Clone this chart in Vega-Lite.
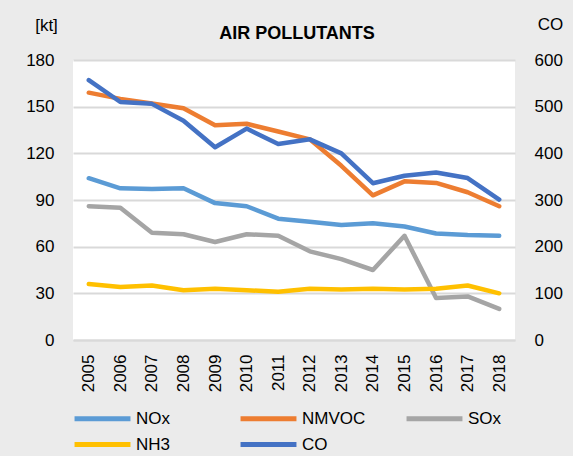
{
  "$schema": "https://vega.github.io/schema/vega-lite/v6.json",
  "width": 442,
  "height": 280,
  "autosize": {"type": "none"},
  "padding": {"left": 73, "top": 60, "right": 58, "bottom": 116},
  "background": "#ebebeb",
  "title": {"text": "AIR POLLUTANTS", "font": "Liberation Sans", "fontSize": 18, "fontWeight": "bold", "color": "#000000", "anchor": "middle", "offset": 0, "dx": 3, "dy": 28},
  "config": {
    "view": {"fill": "#ffffff", "stroke": null},
    "font": "Liberation Sans",
    "axis": {"labelFontSize": 17, "labelColor": "#000000", "labelFont": "Liberation Sans", "titleFont": "Liberation Sans", "titleFontSize": 17, "titleFontWeight": "normal", "titleColor": "#000000", "ticks": false, "gridColor": "#d9d9d9", "gridWidth": 2}
  },
  "data": {"values": [
    {"year": "2005", "series": "NOx", "value": 104},
    {"year": "2006", "series": "NOx", "value": 97.5},
    {"year": "2007", "series": "NOx", "value": 97},
    {"year": "2008", "series": "NOx", "value": 97.5},
    {"year": "2009", "series": "NOx", "value": 88},
    {"year": "2010", "series": "NOx", "value": 86},
    {"year": "2011", "series": "NOx", "value": 78},
    {"year": "2012", "series": "NOx", "value": 76},
    {"year": "2013", "series": "NOx", "value": 74},
    {"year": "2014", "series": "NOx", "value": 75},
    {"year": "2015", "series": "NOx", "value": 73},
    {"year": "2016", "series": "NOx", "value": 68.5},
    {"year": "2017", "series": "NOx", "value": 67.5},
    {"year": "2018", "series": "NOx", "value": 67},
    {"year": "2005", "series": "NMVOC", "value": 159},
    {"year": "2006", "series": "NMVOC", "value": 155},
    {"year": "2007", "series": "NMVOC", "value": 152},
    {"year": "2008", "series": "NMVOC", "value": 149},
    {"year": "2009", "series": "NMVOC", "value": 138},
    {"year": "2010", "series": "NMVOC", "value": 139},
    {"year": "2011", "series": "NMVOC", "value": 134},
    {"year": "2012", "series": "NMVOC", "value": 129},
    {"year": "2013", "series": "NMVOC", "value": 112},
    {"year": "2014", "series": "NMVOC", "value": 93},
    {"year": "2015", "series": "NMVOC", "value": 102},
    {"year": "2016", "series": "NMVOC", "value": 101},
    {"year": "2017", "series": "NMVOC", "value": 95},
    {"year": "2018", "series": "NMVOC", "value": 86},
    {"year": "2005", "series": "SOx", "value": 86},
    {"year": "2006", "series": "SOx", "value": 85},
    {"year": "2007", "series": "SOx", "value": 69},
    {"year": "2008", "series": "SOx", "value": 68},
    {"year": "2009", "series": "SOx", "value": 63},
    {"year": "2010", "series": "SOx", "value": 68},
    {"year": "2011", "series": "SOx", "value": 67},
    {"year": "2012", "series": "SOx", "value": 57},
    {"year": "2013", "series": "SOx", "value": 52},
    {"year": "2014", "series": "SOx", "value": 45},
    {"year": "2015", "series": "SOx", "value": 67},
    {"year": "2016", "series": "SOx", "value": 27},
    {"year": "2017", "series": "SOx", "value": 28},
    {"year": "2018", "series": "SOx", "value": 20},
    {"year": "2005", "series": "NH3", "value": 36},
    {"year": "2006", "series": "NH3", "value": 34},
    {"year": "2007", "series": "NH3", "value": 35},
    {"year": "2008", "series": "NH3", "value": 32},
    {"year": "2009", "series": "NH3", "value": 33},
    {"year": "2010", "series": "NH3", "value": 32},
    {"year": "2011", "series": "NH3", "value": 31},
    {"year": "2012", "series": "NH3", "value": 33},
    {"year": "2013", "series": "NH3", "value": 32.5},
    {"year": "2014", "series": "NH3", "value": 33},
    {"year": "2015", "series": "NH3", "value": 32.5},
    {"year": "2016", "series": "NH3", "value": 33},
    {"year": "2017", "series": "NH3", "value": 35},
    {"year": "2018", "series": "NH3", "value": 30},
    {"year": "2005", "series": "CO", "value": 557},
    {"year": "2006", "series": "CO", "value": 510},
    {"year": "2007", "series": "CO", "value": 506},
    {"year": "2008", "series": "CO", "value": 470},
    {"year": "2009", "series": "CO", "value": 413},
    {"year": "2010", "series": "CO", "value": 453},
    {"year": "2011", "series": "CO", "value": 420},
    {"year": "2012", "series": "CO", "value": 430},
    {"year": "2013", "series": "CO", "value": 400},
    {"year": "2014", "series": "CO", "value": 336},
    {"year": "2015", "series": "CO", "value": 352},
    {"year": "2016", "series": "CO", "value": 359},
    {"year": "2017", "series": "CO", "value": 347},
    {"year": "2018", "series": "CO", "value": 301}
  ]},
  "encoding": {
    "x": {
      "field": "year", "type": "ordinal",
      "scale": {"type": "point", "padding": 0.5},
      "axis": {"title": null, "labelAngle": -90, "labelPadding": 14, "domain": true, "domainColor": "#d9d9d9", "domainWidth": 2, "grid": false}
    },
    "color": {
      "field": "series", "type": "nominal",
      "scale": {"domain": ["NOx", "NMVOC", "SOx", "NH3", "CO"], "range": ["#5b9bd5", "#ed7d31", "#a5a5a5", "#ffc000", "#4472c4"]},
      "legend": {"title": null, "orient": "none", "legendX": 15, "legendY": 344, "direction": "horizontal", "columns": 3, "gridAlign": "all", "symbolType": "M-2.33,0H2.33", "symbolSize": 576, "symbolStrokeWidth": 5, "labelFontSize": 17, "labelFont": "Liberation Sans", "labelColor": "#000000", "labelOffset": 19, "columnPadding": 30, "rowPadding": 1}
    }
  },
  "layer": [
    {
      "transform": [{"filter": "datum.series !== 'CO'"}],
      "mark": {"type": "line", "strokeWidth": 4.5, "strokeCap": "round", "strokeJoin": "round"},
      "encoding": {
        "y": {
          "field": "value", "type": "quantitative",
          "scale": {"domain": [0, 180], "nice": false},
          "axis": {"orient": "left", "values": [0, 30, 60, 90, 120, 150, 180], "domain": false, "labelPadding": 19, "title": "[kt]", "titleAngle": 0, "titleAlign": "center", "titleBaseline": "alphabetic", "titleX": -27, "titleY": -30}
        }
      }
    },
    {
      "transform": [{"filter": "datum.series === 'CO'"}],
      "mark": {"type": "line", "strokeWidth": 4.5, "strokeCap": "round", "strokeJoin": "round"},
      "encoding": {
        "y": {
          "field": "value", "type": "quantitative",
          "scale": {"domain": [0, 600], "nice": false},
          "axis": {"orient": "right", "values": [0, 100, 200, 300, 400, 500, 600], "domain": false, "grid": false, "labelPadding": 19, "title": "CO", "titleAngle": 0, "titleAlign": "center", "titleBaseline": "alphabetic", "titleX": 35, "titleY": -31}
        }
      }
    }
  ],
  "resolve": {"scale": {"y": "independent"}}
}
